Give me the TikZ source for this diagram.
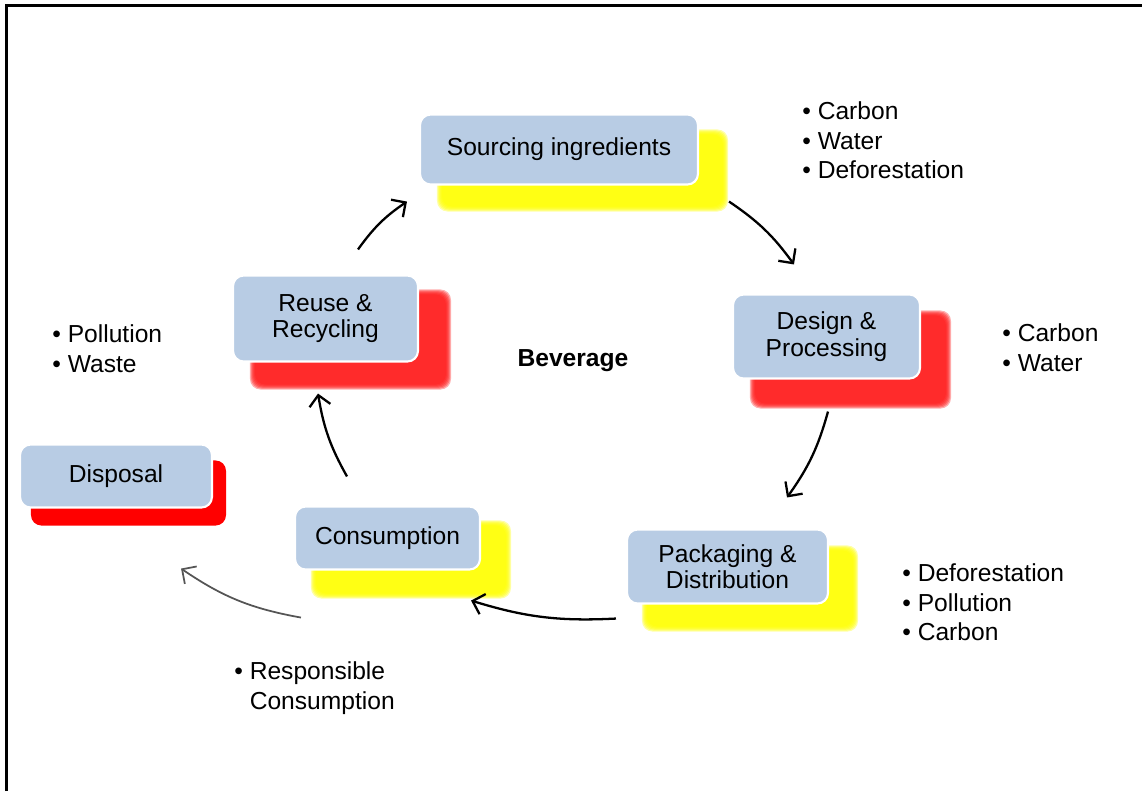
\documentclass[tikz,border=0pt]{standalone}
\usepackage{fontspec}
\setmainfont{Liberation Sans}
\usetikzlibrary{arrows.meta,calc,backgrounds}
\definecolor{stageblue}{RGB}{184,204,228}
\definecolor{shadeyellow}{RGB}{255,255,0}
\definecolor{shadered}{RGB}{255,25,25}
\definecolor{pastgray}{RGB}{85,85,85}
\newcommand\glowbox[4]{%
  \foreach \k in {0,...,5}
    \fill[#1, fill opacity=0.35, rounded corners=6pt] ($(#2.north west)+(#3)+(\k,\k)$) rectangle ($(#2.south east)+(#4)-(\k,\k)$);}
\tikzset{
  stage/.style={draw=white, line width=1.2pt, fill=stageblue, rounded corners=6pt,
    align=center, inner sep=2pt, font=\fontsize{14}{15}\selectfont},
  flow/.style={line width=1.3pt, -{Straight Barb[length=6pt,width=12pt]}, bend left=10},
  points/.style={anchor=north west, inner sep=0pt, align=left, font=\fontsize{14}{17}\selectfont},
}
\begin{document}
\begin{tikzpicture}[x=0.02cm, y=-0.02cm]
  \useasboundingbox (0,0) rectangle (1142,791);
  \draw[line width=1.2pt] (6.5,791) -- (6.5,5.5) -- (1142,5.5);

  \node[stage, minimum width=5.56cm, minimum height=1.4cm] (src) at (559,149.5) {Sourcing ingredients};
  \node[stage, minimum width=3.74cm, minimum height=1.68cm] (design) at (826.5,336.5) {Design \&\\Processing};
  \node[stage, minimum width=4.02cm, minimum height=1.48cm] (pack) at (727.5,566.5) {Packaging \&\\Distribution};
  \node[stage, minimum width=3.7cm, minimum height=1.26cm] (cons) at (387.5,538) {Consumption};
  \node[stage, minimum width=3.7cm, minimum height=1.72cm] (reuse) at (325.5,318.5) {Reuse \&\\Recycling};
  \node[stage, minimum width=3.84cm, minimum height=1.26cm] (disp) at (116,476) {Disposal};

  \begin{scope}[on background layer]
    \glowbox{shadeyellow}{src}{18,16}{29,26}
    \glowbox{shadered}{design}{18,17}{30,29}
    \glowbox{shadeyellow}{pack}{16,17}{29,27}
    \glowbox{shadeyellow}{cons}{17,15}{30,28}
    \glowbox{shadered}{reuse}{18,15}{32,27}
    \fill[red, rounded corners=6pt] ($(disp.north west)+(12,17)$) rectangle ($(disp.south east)+(13,17)$);
  \end{scope}

  \node[font=\fontsize{14}{17}\selectfont\bfseries] (bev) at (573,361) {Beverage};

  \node[points] (srcpts) at (802,101) {• Carbon\\• Water\\• Deforestation};
  \node[points] (designpts) at (1002,323) {• Carbon\\• Water};
  \node[points] (packpts) at (902,563) {• Deforestation\\• Pollution\\• Carbon};
  \node[points] (conspts) at (234,661) {• Responsible\\\hphantom{•\ }Consumption};
  \node[points] (reusepts) at (52,324) {• Pollution\\• Waste};

  \draw[flow] ($(reuse.north)+(32.5,-25)$) to ($(src.south west)+(-12,16)$);
  \draw[flow] ($(src.south east)+(30,16)$) to ($(design.north west)+(62,-29)$);
  \draw[flow] ($(design.south)+(1.5,32)$) to ($(pack.north)+(59.5,-31)$);
  \draw[flow] ($(pack.south west)+(-10,14)$) to ($(cons.south east)+(-10,30)$);
  \draw[flow] ($(cons.north)+(-40.5,-29)$) to ($(reuse.south)+(-7.5,31)$);
  \draw[flow, pastgray, line width=1pt, bend left=12] ($(cons.south west)+(7,47)$) to ($(disp.south east)+(-32,60)$);
\end{tikzpicture}
\end{document}
